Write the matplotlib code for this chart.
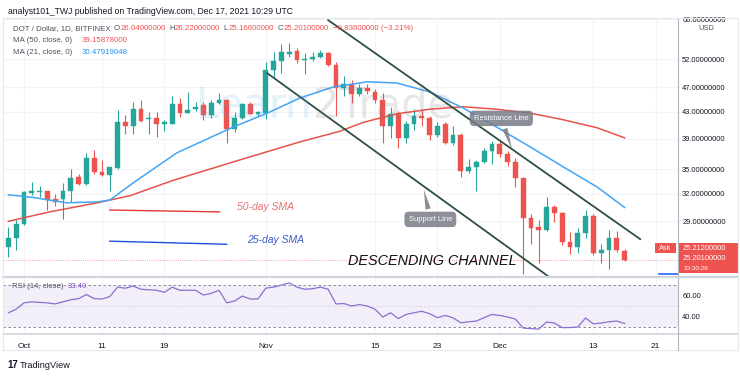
import matplotlib.pyplot as plt
import numpy as np
from matplotlib.ticker import NullLocator, FuncFormatter
from matplotlib.patches import Rectangle
from matplotlib.lines import Line2D

## data (day index: 0 = Oct 1, 2021)

days = np.arange(-2, 78)
opens = [26.4, 27.3, 28.7, 32.1, 32.2, 32.3, 31.4, 31.4, 32.3, 34.0, 33.2, 36.4, 34.6, 34.2,
         35.1, 41.5, 40.8, 43.5, 41.9, 42.0, 41.2, 41.2, 44.2, 42.8, 43.4, 44.0, 42.5, 44.4,
         44.8, 40.4, 42.0, 44.2, 42.6, 42.8, 50.0, 51.6, 53.0, 53.6, 51.8, 52.0, 52.4, 53.1,
         50.9, 46.8, 47.6, 45.9, 46.8, 46.2, 44.8, 40.9, 42.7, 39.2, 41.1, 42.3, 42.1, 39.6,
         41.1, 38.5, 39.6, 34.7, 35.3, 35.9, 37.3, 38.3, 36.9, 35.9, 33.9, 29.4, 28.4, 28.1,
         30.5, 29.9, 26.9, 26.4, 27.8, 29.6, 25.9, 26.2, 27.3, 26.04]
highs = [28.4, 29.1, 32.4, 33.4, 32.9, 32.4, 32.0, 33.3, 35.0, 34.4, 37.1, 37.5, 36.2, 35.3,
         43.3, 42.5, 44.5, 44.9, 43.0, 43.0, 41.8, 45.6, 45.2, 46.1, 44.5, 44.6, 44.8, 46.0,
         45.0, 42.9, 44.4, 44.5, 43.2, 51.4, 53.3, 54.9, 55.1, 54.1, 53.1, 53.3, 53.8, 53.4,
         51.5, 48.9, 48.2, 47.6, 47.6, 46.7, 46.0, 43.7, 43.2, 41.6, 43.4, 43.5, 42.4, 41.5,
         41.5, 40.8, 39.9, 36.3, 36.2, 37.7, 38.7, 38.7, 37.3, 36.4, 34.0, 29.8, 29.1, 31.6,
         30.7, 30.0, 27.9, 28.3, 30.2, 29.8, 26.7, 28.1, 28.0, 26.22]
lows = [25.5, 26.2, 28.6, 31.9, 31.6, 30.2, 30.6, 29.2, 31.1, 33.0, 33.1, 34.4, 34.1, 32.3,
        35.0, 39.7, 39.7, 41.5, 39.7, 39.3, 40.2, 41.2, 42.2, 42.8, 43.1, 41.8, 42.0, 44.3,
        38.5, 40.0, 41.9, 42.6, 42.2, 41.9, 48.7, 49.5, 52.4, 51.3, 49.2, 51.6, 52.2, 50.7,
        42.4, 45.6, 44.4, 45.6, 45.9, 44.4, 38.5, 39.2, 37.8, 38.5, 40.3, 40.9, 38.9, 39.3,
        38.3, 38.1, 34.0, 34.5, 32.3, 35.8, 35.6, 36.6, 35.4, 32.8, 24.0, 26.7, 25.0, 28.0,
        28.9, 26.6, 25.8, 25.9, 27.3, 25.7, 25.0, 24.4, 26.0, 25.166]
closes = [27.3, 28.7, 32.2, 32.3, 32.4, 31.3, 31.1, 32.3, 33.9, 33.2, 36.4, 34.6, 34.2, 35.2,
          41.5, 40.8, 43.5, 41.6, 42.1, 41.2, 41.5, 44.2, 42.8, 43.3, 43.8, 42.5, 44.4, 44.9,
          40.4, 42.0, 44.2, 42.7, 42.9, 50.0, 51.6, 53.3, 53.4, 51.8, 52.0, 52.4, 53.2, 50.9,
          46.8, 47.6, 45.8, 46.8, 46.3, 44.8, 40.9, 42.6, 39.2, 41.1, 42.3, 42.1, 39.6, 40.9,
          38.5, 39.5, 34.7, 35.3, 35.9, 37.3, 38.3, 36.9, 35.9, 33.9, 29.4, 28.3, 28.1, 30.5,
          29.9, 26.9, 26.4, 27.8, 29.6, 25.9, 26.2, 27.3, 26.2, 25.201]

ma50_days = [-2, 3.3, 9.4, 13.6, 19.1, 26.8, 35.4, 40.5, 43.5, 47.8, 52, 56.3, 60.6, 64.9, 69.1, 73.5, 77]
ma50_vals = [29.0, 30.0, 31.0, 31.8, 33.6, 35.9, 38.6, 40.1, 41.4, 42.7, 43.4, 43.8, 43.4, 42.8,
             41.8, 40.6, 39.16]
ma21_days = [-2, 1.2, 3.3, 5.5, 9.4, 11, 14, 19.6, 26.8, 31.2, 35.4, 39.6, 44, 47.8, 52, 56.3,
             60.6, 64.9, 69.1, 73.5, 77]
ma21_vals = [31.9, 31.6, 31.3, 31.0, 31.1, 31.3, 33.3, 37.1, 40.7, 42.8, 45.2, 47.0, 47.9, 47.7,
             46.2, 43.6, 40.7, 37.9, 35.3, 32.8, 30.48]

rsi = [43.6, 47, 53, 54, 53.5, 53, 52, 54, 56, 57, 61, 57, 56.7, 59, 68, 67, 69, 66, 65.5, 65,
       63, 68, 65, 65, 65, 60.5, 62, 65, 53, 54.8, 59.5, 56.7, 56.7, 67, 68, 70, 72, 68, 66,
       66.5, 68, 66, 52, 52.4, 50, 51.4, 50, 47, 39.5, 43.6, 38, 42, 43.6, 45, 42.7, 38.9, 41,
       38.8, 34, 35, 35.7, 38.9, 42, 41, 39.5, 37.6, 29, 28.5, 28, 34.8, 33.8, 29.4, 29.5, 30,
       38.6, 33, 33.8, 35, 35.7, 33.4]

resist_days = [39.0, 79.0]
resist_vals = [59.8, 27.2]
support_days = [31.2, 67.2]
support_vals = [49.4, 23.8]

price_ticks = [60, 52, 47, 43, 39, 35, 32, 29]
rsi_ticks = [60, 40]
date_ticks = [0, 10, 18, 31, 45, 53, 61, 73, 81]
date_labels = ['Oct', '11', '19', 'Nov', '15', '23', 'Dec', '13', '21']

## layout helpers (pixels of the 740x377 picture)

W, H = 740, 377
def fx(x):
    return x / W
def fy(y):
    return 1 - y / H

GREEN = '#26a69a'
RED = '#ef5350'
BLUE = '#42a5f5'
TXT = '#131722'
GRID = '#f0f3fa'
plt.rcParams['font.family'] = ['Liberation Sans', 'DejaVu Sans']

fig = plt.figure(figsize=(7.4, 3.77), dpi=100)
ax = fig.add_axes([fx(3), fy(276), fx(675), 258 / H])
ax2 = fig.add_axes([fx(3), fy(333), fx(675), 55 / H])

## main price panel

ax.set_yscale('log')
ax.set_ylim(23.82, 60.27)
ax.set_xlim(-2.69, 83.85)
ax.yaxis.set_minor_locator(NullLocator())
ax.set_yticks(price_ticks)
ax.yaxis.set_major_formatter(FuncFormatter(lambda v, p: '%.8f' % v))
ax.yaxis.tick_right()
ax.tick_params(axis='y', length=0, pad=3, labelsize=5.4, labelcolor=TXT)
ax.set_xticks(date_ticks)
ax.tick_params(axis='x', length=0, labelbottom=False)
ax.grid(True, color=GRID, lw=0.8)
for s in ['top', 'left', 'bottom']:
    ax.spines[s].set_visible(False)
ax.spines['right'].set_color('#b2b5be')
ax.spines['right'].set_linewidth(0.8)

o = np.array(opens)
c = np.array(closes)
cols = np.where(c >= o, GREEN, RED)
ax.vlines(days, lows, highs, colors=cols, lw=0.8, zorder=3)
lo = np.minimum(o, c)
hgt = np.maximum(np.abs(c - o), 0.12)
ax.bar(days, hgt, bottom=lo, width=0.62, color=cols, edgecolor=cols, lw=0.3, zorder=4)

ax.plot(ma50_days, ma50_vals, color='#e5534b', lw=1.1, zorder=5)
ax.plot(ma21_days, ma21_vals, color=BLUE, lw=1.1, zorder=5)

ax.plot(resist_days, resist_vals, color='#2f4f43', lw=1.3, zorder=6)
ax.plot(support_days, support_vals, color='#2f4f43', lw=1.3, zorder=6)

ax.axhline(25.201, color=RED, lw=0.6, ls=':', alpha=0.7, zorder=2)
ax.axhline(23.95, xmin=0.972, color='#2962ff', lw=1.2, zorder=2)

# watermark
ax.text(0.286, 0.66, 'Learn', transform=ax.transAxes, family='DejaVu Sans', fontsize=30,
        color='#4fb3e8', alpha=0.16, va='center', ha='left', zorder=7)
ax.text(0.459, 0.66, '2Trade', transform=ax.transAxes, family='DejaVu Sans', fontsize=30,
        color='#7a7a7a', alpha=0.18, va='center', ha='left', zorder=7)

# hand drawn notes
ax.plot([11.0, 25.1], [30.2, 30.0], color='#e53935', lw=1.0, zorder=5)
ax.plot([11.0, 26.0], [27.0, 26.7], color='#1e4fd8', lw=1.0, zorder=5)
ax.text(31.0, 30.5, '50-day SMA', color='#e57373', fontsize=7.5, style='italic',
        ha='center', va='center')
ax.text(32.2, 27.1, '25-day SMA', color='#3d5bc9', fontsize=7.5, style='italic',
        ha='center', va='center')
ax.text(52.3, 25.15, 'DESCENDING CHANNEL', fontsize=10.4, style='italic', color='#111111',
        ha='center', va='center', zorder=8)

box = dict(boxstyle='round,pad=0.55', fc='#787b86', ec='none', alpha=0.85)
arrow = dict(arrowstyle='wedge,tail_width=0.7', fc='#787b86', ec='none', alpha=0.85)
ax.annotate('Resistance Line', xy=(62.7, 37.2), xytext=(61.2, 42.0), color='white',
            fontsize=5.5, ha='center', va='center', bbox=box, arrowprops=arrow, zorder=9)
ax.annotate('Support Line', xy=(51.2, 32.8), xytext=(52.1, 29.2), color='white',
            fontsize=5.5, ha='center', va='center', bbox=box, arrowprops=arrow, zorder=9)

## RSI panel

ax2.set_xlim(-2.69, 83.85)
ax2.set_ylim(24.3, 76.7)
ax2.axhspan(30, 70, color='#7e57c2', alpha=0.09, lw=0)
ax2.axhline(70, color='#787b86', lw=0.6, ls=(0, (3, 3)))
ax2.axhline(30, color='#787b86', lw=0.6, ls=(0, (3, 3)))
ax2.axhline(50, color='#787b86', lw=0.5, ls=(0, (1, 2)), alpha=0.5)
ax2.plot(days, rsi, color='#8a6fd0', lw=0.9)
ax2.set_yticks(rsi_ticks)
ax2.yaxis.set_major_formatter(FuncFormatter(lambda v, p: '%.2f' % v))
ax2.yaxis.tick_right()
ax2.tick_params(axis='y', length=0, pad=3, labelsize=5.4, labelcolor=TXT)
ax2.set_xticks(date_ticks)
ax2.set_xticklabels(date_labels)
ax2.tick_params(axis='x', length=0, pad=7, labelsize=6, labelcolor=TXT)
ax2.grid(True, axis='x', color=GRID, lw=0.8)
for s in ['top', 'left', 'bottom']:
    ax2.spines[s].set_visible(False)
ax2.spines['right'].set_color('#b2b5be')
ax2.spines['right'].set_linewidth(0.8)

## frame and separators

def hline(y, x0, x1, color, lw):
    fig.add_artist(Line2D([fx(x0), fx(x1)], [fy(y), fy(y)], color=color, lw=lw))

def vline(x, y0, y1, color, lw):
    fig.add_artist(Line2D([fx(x), fx(x)], [fy(y0), fy(y1)], color=color, lw=lw))

hline(277, 3, 738, '#d1d4dc', 1.6)
hline(333.5, 3, 738, '#d1d4dc', 1.2)
hline(18, 3, 738, '#e6e8ee', 0.8)
hline(350, 3, 738, '#e6e8ee', 0.8)
vline(3, 18, 350, '#e6e8ee', 0.8)
vline(738, 18, 350, '#e6e8ee', 0.8)
vline(678, 333, 350, '#b2b5be', 0.8)

## texts

fig.text(fx(8), fy(11), 'analyst101_TWJ published on TradingView.com, Dec 17, 2021 10:29 UTC',
         fontsize=6.2, color=TXT, va='center', ha='left')

grey = '#50535e'
renderer = fig.canvas.get_renderer()
pieces = [('DOT / Dollar, 1D, BITFINEX', grey, 3), ('O', grey, 0.5), ('26.04000000', RED, 3.5),
          ('H', grey, 0.5), ('26.22000000', RED, 3.5), ('L', grey, 0.5),
          ('25.16600000', RED, 3.5), ('C', grey, 0.5), ('25.20100000', RED, 4),
          ('\u22120.83600000 (\u22123.21%)', RED, 0)]
x = 13
for t, col, gap in pieces:
    tx = fig.text(fx(x), fy(29), t, fontsize=5.7, color=col, va='center', ha='left')
    x += tx.get_window_extent(renderer=renderer).width + gap
fig.text(fx(13), fy(41), 'MA (50, close, 0)', fontsize=5.7, color=grey, va='center')
fig.text(fx(82), fy(41), '39.15878000', fontsize=5.7, color=RED, va='center')
fig.text(fx(13), fy(52), 'MA (21, close, 0)', fontsize=5.7, color=grey, va='center')
fig.text(fx(82), fy(52), '30.47919048', fontsize=5.7, color='#2196f3', va='center')

fig.text(fx(12), fy(287), 'RSI (14, close)', fontsize=5.6, color=grey, va='center')
fig.text(fx(68), fy(287), '33.40', fontsize=5.6, color='#7e57c2', va='center')

fig.text(fx(706), fy(29), 'USD', fontsize=5.4, color=grey, va='center', ha='center')

# last price labels
fig.add_artist(Rectangle((fx(679), fy(273)), fx(59), 30 / H, color=RED, lw=0))
fig.add_artist(Rectangle((fx(655), fy(253)), fx(21), 10 / H, color=RED, lw=0))
fig.text(fx(665.5), fy(248), 'Ask', fontsize=5.2, color='white', va='center', ha='center')
fig.text(fx(683), fy(248), '25.21200000', fontsize=5.4, color='white', va='center')
fig.text(fx(683), fy(259), '25.20100000', fontsize=5.4, color='white', va='center')
fig.text(fx(683), fy(268), '13:30:26', fontsize=4.6, color='white', va='center')

fig.text(fx(7), fy(365), '17', fontsize=7, fontweight='bold', color=TXT, va='center')
fig.text(fx(20), fy(365), 'TradingView', fontsize=6.6, color=TXT, va='center')

plt.savefig('out.png', dpi=100)
